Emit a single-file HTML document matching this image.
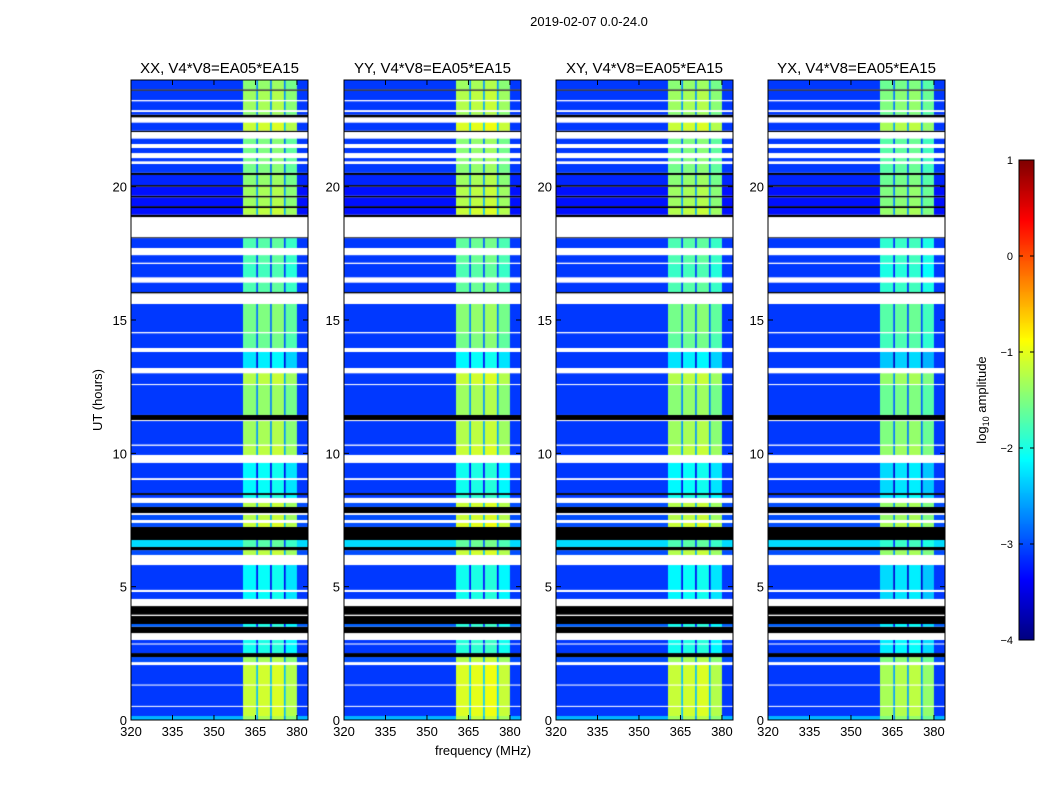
<!DOCTYPE html>
<html><head><meta charset="utf-8"><style>
body{margin:0;background:#fff;width:1050px;height:800px;overflow:hidden;font-family:"Liberation Sans",sans-serif}
#wrap{position:relative;width:1050px;height:800px}
canvas{position:absolute}
svg{position:absolute;left:0;top:0}
</style></head><body>
<div id="wrap">
<canvas id="c0" width="177" height="640" style="left:131px;top:80px"></canvas>
<canvas id="c1" width="177" height="640" style="left:344px;top:80px"></canvas>
<canvas id="c2" width="177" height="640" style="left:556px;top:80px"></canvas>
<canvas id="c3" width="177" height="640" style="left:768px;top:80px"></canvas>
<canvas id="cb" width="15" height="480" style="left:1019px;top:160px"></canvas>
<svg id="ov" width="1050" height="800"></svg>
</div>
<script>
// Time segments (hours): [start, end, kind, bgLevel, bandLevel]  kind: d=data, w=white(flagged), k=black
const segments=[
[0,0.15,'d',-2.5,-1.1],[0.15,0.49,'d',-3.1,-0.9],[0.49,0.53,'w'],[0.53,1.29,'d',-3.1,-0.9],
[1.29,1.33,'w'],[1.33,2.06,'d',-3.1,-0.9],[2.06,2.17,'w'],[2.17,2.36,'d',-3.0,-1.1],
[2.36,2.51,'k'],[2.51,2.83,'d',-3.1,-1.8],[2.83,2.87,'w'],[2.87,3.0,'d',-3.1,-1.8],
[3.0,3.26,'w'],[3.26,3.5,'k'],[3.5,3.6,'d',-2.9,-1.8],[3.6,3.9,'k'],[3.9,3.95,'w'],
[3.95,4.27,'k'],[4.27,4.54,'w'],[4.54,4.8,'d',-3.1,-1.9],[4.8,4.88,'w'],[4.88,5.81,'d',-3.1,-1.9],
[5.81,6.19,'w'],[6.19,6.37,'d',-3.0,-1.0],[6.37,6.49,'k'],[6.49,6.75,'d',-2.3,-1.5],
[6.75,7.24,'k'],[7.24,7.39,'d',-3.0,-0.9],[7.39,7.5,'w'],[7.5,7.69,'d',-3.0,-1.0],
[7.69,7.76,'w'],[7.76,7.99,'k'],[7.99,8.14,'d',-3.0,-1.0],[8.14,8.33,'w'],[8.33,8.44,'d',-3.1,-1.8],
[8.44,8.51,'k'],[8.51,9.0,'d',-3.1,-1.9],[9.0,9.07,'w'],[9.07,9.64,'d',-3.1,-1.9],[9.64,9.94,'w'],
[9.94,10.28,'d',-3.1,-1.0],[10.28,10.33,'w'],[10.33,11.21,'d',-3.1,-1.1],[11.21,11.25,'w'],
[11.25,11.44,'k'],[11.44,12.56,'d',-3.1,-1.2],[12.56,12.6,'w'],[12.6,13.0,'d',-3.1,-1.0],
[13.0,13.2,'w'],[13.2,13.8,'d',-3.1,-2.0],[13.8,13.95,'w'],[13.95,14.5,'d',-3.1,-1.4],
[14.5,14.55,'w'],[14.55,15.6,'d',-3.1,-1.3],[15.6,16.0,'w'],[16.0,16.05,'k'],[16.05,16.4,'d',-3.1,-1.5],
[16.4,16.6,'w'],[16.6,17.1,'d',-3.1,-1.6],[17.1,17.15,'w'],[17.15,17.43,'d',-3.1,-1.5],
[17.43,17.7,'w'],[17.7,18.07,'d',-3.1,-1.5],[18.07,18.1,'k'],[18.1,18.86,'w'],[18.86,18.95,'k'],
[18.95,19.2,'d',-3.3,-1.0],[19.2,19.27,'k'],[19.27,19.6,'d',-3.3,-1.1],[19.6,19.66,'k'],
[19.66,20.0,'d',-3.3,-1.1],[20.0,20.06,'k'],[20.06,20.44,'d',-3.2,-1.2],[20.44,20.52,'k'],
[20.52,20.85,'d',-3.1,-1.3],[20.85,20.95,'w'],[20.95,21.07,'d',-3.1,-1.3],[21.07,21.26,'w'],
[21.26,21.45,'d',-3.1,-1.3],[21.45,21.6,'w'],[21.6,21.8,'d',-3.1,-1.3],[21.8,22.05,'w'],
[22.05,22.1,'k'],[22.1,22.4,'d',-3.1,-0.9],[22.4,22.6,'w'],[22.6,22.7,'k'],[22.7,22.8,'d',-3.1,-1.2],
[22.8,22.87,'w'],[22.87,23.2,'d',-3.1,-1.1],[23.2,23.25,'w'],[23.25,23.6,'d',-3.1,-1.1],
[23.6,23.65,'k'],[23.65,24,'d',-3.1,-1.2]
];
// Frequency columns (MHz): start edges and band offsets (null = background)
const colStart=[320,360.5,365.3,365.9,370.3,370.9,375.3,375.9,380];
const colOff=[null,0,-1.3,0.05,-1.3,0.1,-1.3,-0.1,null];
const panelNames=["XX, V4*V8=EA05*EA15","YY, V4*V8=EA05*EA15","XY, V4*V8=EA05*EA15","YX, V4*V8=EA05*EA15"];
const panelBand=[-0.25,-0.15,-0.25,-0.4];
const xTicks=[320,335,350,365,380];
const yTicks=[0,5,10,15,20];
const cbTicks=[1,0,-1,-2,-3,-4];

const XMIN=320,XMAX=384,W=177,H=640,VMIN=-4,VMAX=1;
function xs(f){return (f-XMIN)/(XMAX-XMIN)*W;}
function ys(h){return H-h/24*H;}
function jet(t){t=Math.max(0,Math.min(1,t));
 const r=Math.max(0,Math.min(1,1.5-Math.abs(4*t-3)));
 const g=Math.max(0,Math.min(1,1.5-Math.abs(4*t-2)));
 const b=Math.max(0,Math.min(1,1.5-Math.abs(4*t-1)));
 return `rgb(${Math.round(r*255)},${Math.round(g*255)},${Math.round(b*255)})`;}
function cval(v){return jet((v-VMIN)/(VMAX-VMIN));}

for(let p=0;p<4;p++){
 const ctx=document.getElementById('c'+p).getContext('2d');
 ctx.fillStyle='#fff';ctx.fillRect(0,0,W,H);
 segments.forEach(s=>{
  const y0=ys(s[1]),y1=ys(s[0]);
  if(s[2]==='w')return;
  if(s[2]==='k'){ctx.fillStyle='#000';ctx.fillRect(0,y0,W,y1-y0);return;}
  for(let c=0;c<colStart.length;c++){
   const f0=colStart[c],f1=c+1<colStart.length?colStart[c+1]:XMAX;
   const v=colOff[c]===null?s[3]:s[4]+colOff[c]+panelBand[p];
   ctx.fillStyle=cval(v);
   ctx.fillRect(xs(f0),y0,xs(f1)-xs(f0)+0.5,y1-y0);
  }
 });
}
const cb=document.getElementById('cb').getContext('2d');
for(let y=0;y<480;y++){cb.fillStyle=jet(1-y/479);cb.fillRect(0,y,15,1);}

const NS='http://www.w3.org/2000/svg';
const ov=document.getElementById('ov');
function el(tag,a,txt){const e=document.createElementNS(NS,tag);for(const k in a)e.setAttribute(k,a[k]);if(txt!==undefined)e.textContent=txt;ov.appendChild(e);return e;}
const lefts=[131,344,556,768];
for(let p=0;p<4;p++){
 const L=lefts[p],T=80;
 const fr=el('rect',{x:L,y:T,width:W,height:H,fill:'none',stroke:'#000','stroke-width':1});
 
 
 const t=el('text',{x:L+W/2,y:73,'text-anchor':'middle','font-size':15},panelNames[p]);
 
 
 xTicks.forEach(v=>{const x=L+xs(v);
  el('line',{x1:x,x2:x,y1:T+H,y2:T+H-5,stroke:'#000'});el('line',{x1:x,x2:x,y1:T,y2:T+5,stroke:'#000'});
  const tl=el('text',{x:x,y:T+H+16,'text-anchor':'middle','font-size':13},String(v));
  
  });
 yTicks.forEach(v=>{const y=T+ys(v);
  el('line',{x1:L,x2:L+5,y1:y,y2:y,stroke:'#000'});el('line',{x1:L+W,x2:L+W-5,y1:y,y2:y,stroke:'#000'});
  const tl=el('text',{x:L-4,y:y+5,'text-anchor':'end','font-size':13},String(v));
  
  });
}
const ttl=el('text',{x:589,y:26,'text-anchor':'middle','font-size':13},'2019-02-07 0.0-24.0');


const xl=el('text',{x:483,y:755,'text-anchor':'middle','font-size':13},'frequency (MHz)');


const yl=el('text',{x:102,y:400,'text-anchor':'middle','font-size':13,transform:'rotate(-90 102 400)'},'UT (hours)');


const cf=el('rect',{x:1019,y:160,width:15,height:480,fill:'none',stroke:'#000'});


cbTicks.forEach(v=>{const y=160+(VMAX-v)/(VMAX-VMIN)*480;
 el('line',{x1:1019,x2:1023,y1:y,y2:y,stroke:'#000'});el('line',{x1:1034,x2:1030,y1:y,y2:y,stroke:'#000'});
 const tl=el('text',{x:1013,y:y+4,'text-anchor':'end','font-size':11},v<0?'\u2212'+(-v):String(v));
 
 });
const cl=el('text',{x:986,y:400,'text-anchor':'middle','font-size':13,transform:'rotate(-90 986 400)'});


cl.innerHTML='log<tspan font-size="9" dy="3">10</tspan><tspan dy="-3"> amplitude</tspan>';
</script>
</body></html>
